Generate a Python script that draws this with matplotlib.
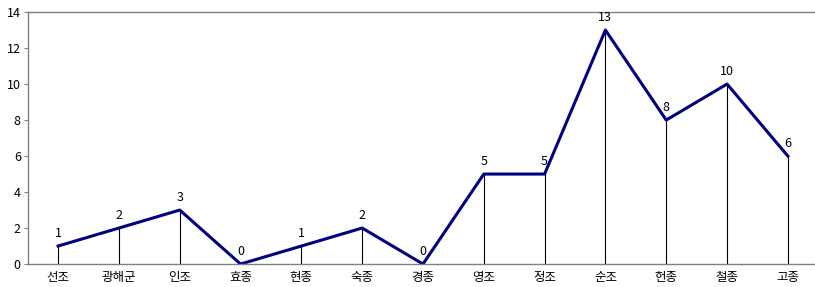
import matplotlib.pyplot as plt

plt.rcParams['font.family'] = ['Noto Sans CJK KR', 'DejaVu Sans']

kings = ['선조', '광해군', '인조', '효종', '현종', '숙종', '경종', '영조', '정조', '순조', '헌종', '철종', '고종']
counts = [1, 2, 3, 0, 1, 2, 0, 5, 5, 13, 8, 10, 6]

fig = plt.figure(figsize=(8.15, 2.87), dpi=100)
ax = fig.add_axes([0.034, 0.080, 0.970, 0.878])

x = list(range(len(kings)))
# drop lines from each point down to zero
ax.vlines(x, 0, counts, color='black', linewidth=0.8, zorder=1)
ax.plot(x, counts, color='#000080', linewidth=2.2, zorder=2)

for xi, v in zip(x, counts):
    ax.annotate(str(v), (xi, v), xytext=(0, 4), textcoords='offset points',
                ha='center', va='bottom', fontsize=9, color='black')

ax.set_xlim(-0.5, len(kings) - 0.5)
ax.set_ylim(0, 14)
ax.set_yticks(range(0, 15, 2))
ax.set_xticks(x)
ax.set_xticklabels(kings, fontsize=9)
ax.tick_params(axis='x', length=0, pad=5)
ax.tick_params(axis='y', length=3, labelsize=9, pad=2, color='#808080')

for side in ['left', 'top', 'bottom']:
    ax.spines[side].set_color('#808080')
    ax.spines[side].set_linewidth(1.0)
ax.spines['right'].set_visible(False)

fig.savefig('out.png', dpi=100)
